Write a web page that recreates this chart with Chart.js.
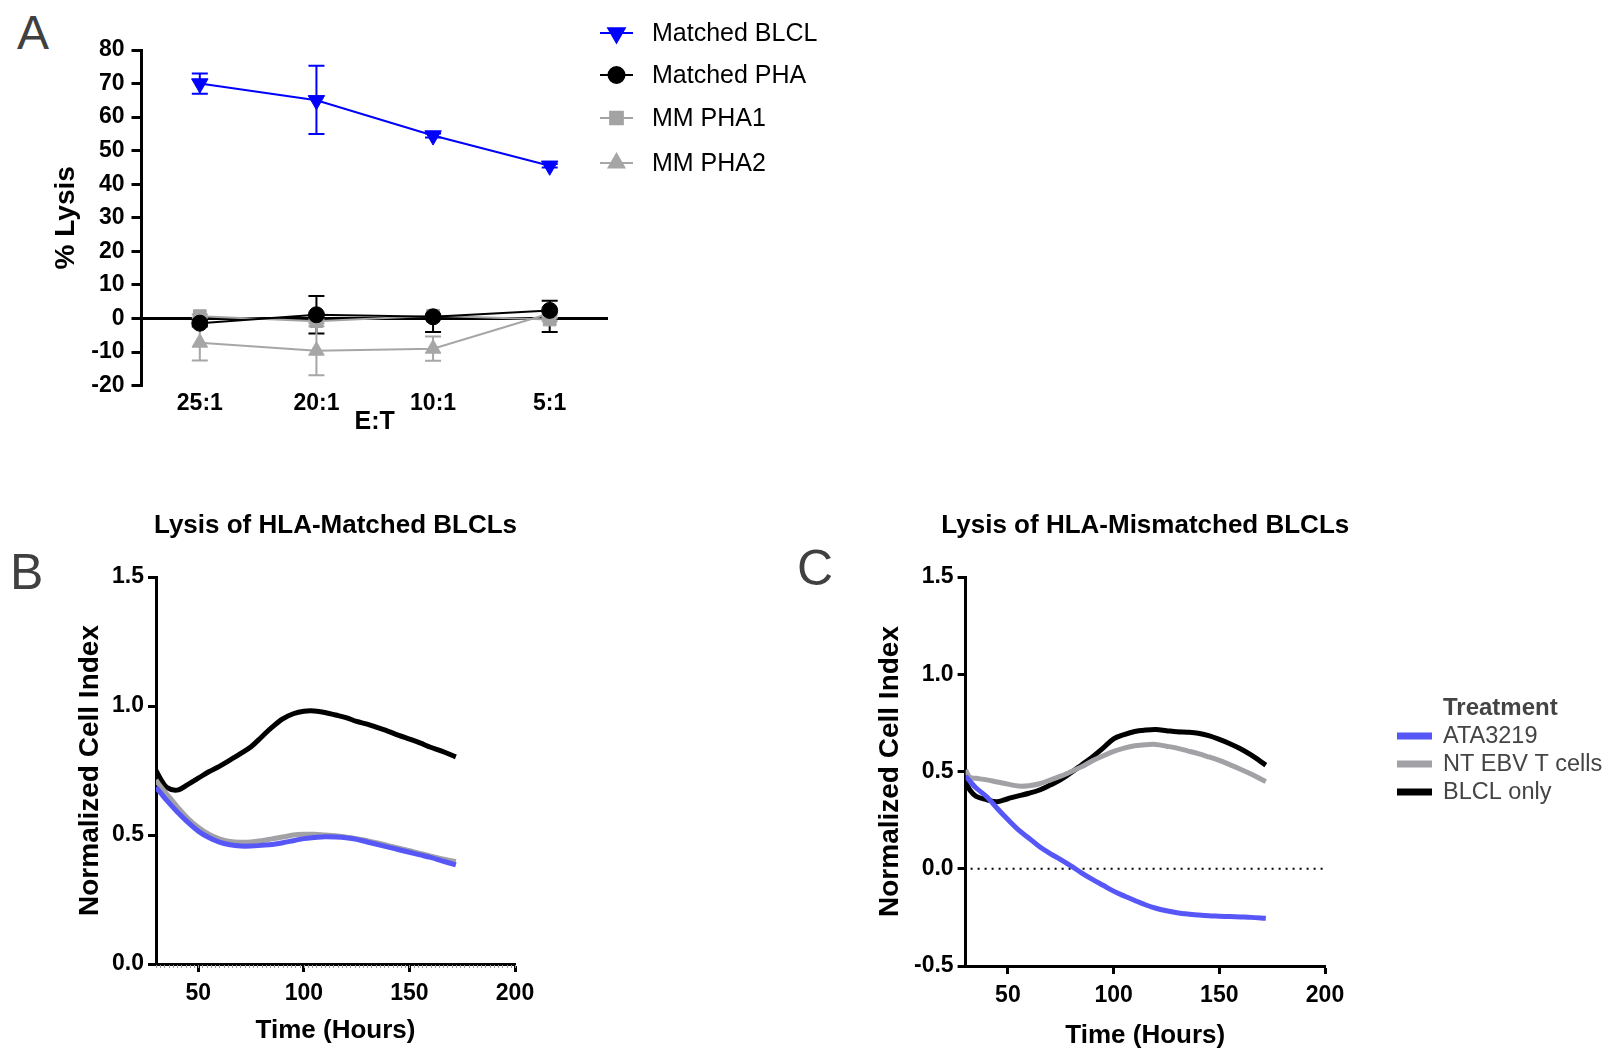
<!DOCTYPE html>
<html>
<head>
<meta charset="utf-8">
<script src="https://cdn.jsdelivr.net/npm/chart.js@4/dist/chart.umd.min.js"></script>
<style>
  body { margin: 0; background: #fff; width: 1608px; height: 1051px; position: relative; overflow: hidden; font-family: "Liberation Sans", Arial, sans-serif; }
  .box { position: absolute; }
  .letter { position: absolute; font-size: 50px; line-height: 1; color: #404040; }
</style>
</head>
<body>
<div class="letter" style="left:17px;top:9px;font-size:48px">A</div>
<div class="letter" style="left:10px;top:547px">B</div>
<div class="letter" style="left:797px;top:543px">C</div>

<div class="box" style="left:0;top:0"><canvas id="chartA" width="860" height="450"></canvas></div>
<div class="box" style="left:0;top:480px"><canvas id="chartB" width="600" height="571"></canvas></div>
<div class="box" style="left:780px;top:480px"><canvas id="chartC" width="828" height="571"></canvas></div>

<script>
// ---- panel A: % lysis by E:T ratio ----
const ratios = ["25:1", "20:1", "10:1", "5:1"];
const lysisTicks = [-20, -10, 0, 10, 20, 30, 40, 50, 60, 70, 80];

const blclMean = [70, 65, 54.5, 45.5];
const blclUp = [3, 10.3, 0.6, 0.5];
const blclDown = [3, 10, 0.6, 0.5];

const phaMean = [-1.4, 1.1, 0.5, 2.4];
const phaUp = [1, 5.6, 0, 2.9];
const phaDown = [1, 5.6, 4.5, 6.4];

const mm1Mean = [0.7, -0.8, 0.8, -0.3];
const mm1Err = [0.5, 0.6, 0.6, 0.5];

const mm2Mean = [-7.2, -9.6, -9.0, 1.5];
const mm2Err = [5.3, 7.3, 3.6, 0.5];

// ---- panels B and C: normalized cell index over time ----
const hours = [30, 32, 35, 40, 45, 50, 55, 60, 65, 70, 75, 80, 85, 90, 95, 100,
  105, 110, 115, 120, 125, 130, 135, 140, 145, 150, 155, 160, 165, 172];
const timeTicks = [50, 100, 150, 200];
const treatments = ["ATA3219", "NT EBV T cells", "BLCL only"];

const matchedATA = [0.685, 0.665, 0.635, 0.59, 0.55, 0.515, 0.49, 0.472, 0.462, 0.457,
  0.457, 0.46, 0.463, 0.47, 0.478, 0.486, 0.49, 0.493, 0.492, 0.489,
  0.483, 0.473, 0.463, 0.453, 0.443, 0.433, 0.423, 0.413, 0.401, 0.384];
const matchedNT = [0.713, 0.69, 0.66, 0.61, 0.565, 0.53, 0.503, 0.485, 0.475, 0.472,
  0.473, 0.478, 0.485, 0.492, 0.5, 0.503, 0.503, 0.5, 0.497, 0.492,
  0.486, 0.478, 0.469, 0.459, 0.449, 0.439, 0.429, 0.418, 0.408, 0.397];
const matchedBLCL = [0.75, 0.72, 0.685, 0.674, 0.695, 0.72, 0.745, 0.766, 0.79, 0.815,
  0.842, 0.88, 0.918, 0.95, 0.97, 0.98, 0.981, 0.975, 0.965, 0.955,
  0.94, 0.93, 0.916, 0.902, 0.886, 0.872, 0.857, 0.84, 0.826, 0.803];

const mismatchedATA = [0.477, 0.45, 0.415, 0.37, 0.31, 0.253, 0.2, 0.157, 0.113, 0.078,
  0.047, 0.013, -0.022, -0.055, -0.085, -0.115, -0.14, -0.163, -0.185, -0.203,
  -0.216, -0.226, -0.233, -0.238, -0.242, -0.244, -0.246, -0.248, -0.25, -0.255];
const mismatchedNT = [0.508, 0.47, 0.465, 0.457, 0.446, 0.435, 0.425, 0.427, 0.437, 0.456,
  0.476, 0.5, 0.525, 0.555, 0.58, 0.603, 0.62, 0.632, 0.638, 0.639,
  0.63, 0.62, 0.606, 0.592, 0.575, 0.557, 0.535, 0.512, 0.487, 0.448];
const mismatchedBLCL = [0.448, 0.405, 0.372, 0.355, 0.345, 0.36, 0.375, 0.388, 0.405, 0.43,
  0.458, 0.495, 0.535, 0.575, 0.62, 0.668, 0.69, 0.706, 0.713, 0.716,
  0.71, 0.704, 0.702, 0.697, 0.684, 0.665, 0.643, 0.617, 0.585, 0.533];

const FONT = "'Liberation Sans', Arial, sans-serif";
const bold = size => ({ family: FONT, size: size, weight: "bold" });
const BLUE = "#5757f7", GRAY = "#a2a2a6";

// error bars drawn under the lines, from errUp / errDown on each dataset
const errorBars = {
  id: "errorBars",
  beforeDatasetsDraw(chart) {
    const { ctx, scales: { x, y } } = chart;
    chart.data.datasets.forEach(ds => {
      if (!ds.errUp) return;
      ctx.save();
      ctx.strokeStyle = ds.borderColor;
      ctx.lineWidth = 2;
      ds.data.forEach((v, j) => {
        const px = x.getPixelForValue(j);
        const py = y.getPixelForValue(v);
        ctx.beginPath();
        if (ds.errUp[j] > 0) {
          const top = y.getPixelForValue(v + ds.errUp[j]);
          ctx.moveTo(px, py); ctx.lineTo(px, top);
          ctx.moveTo(px - 8, top); ctx.lineTo(px + 8, top);
        }
        if (ds.errDown[j] > 0) {
          const bot = y.getPixelForValue(v - ds.errDown[j]);
          ctx.moveTo(px, py); ctx.lineTo(px, bot);
          ctx.moveTo(px - 8, bot); ctx.lineTo(px + 8, bot);
        }
        ctx.stroke();
      });
      ctx.restore();
    });
  }
};

const markerLegend = {
  id: "markerLegend",
  afterDraw(chart, args, o) {
    const ctx = chart.ctx;
    chart.data.datasets.forEach((ds, i) => {
      const y = o.rows[i];
      ctx.save();
      ctx.strokeStyle = ds.borderColor;
      ctx.fillStyle = ds.borderColor;
      ctx.lineWidth = 2;
      ctx.beginPath(); ctx.moveTo(o.x1, y); ctx.lineTo(o.x2, y); ctx.stroke();
      Chart.helpers.drawPoint(ctx, { pointStyle: ds.pointStyle, rotation: ds.pointRotation || 0,
        radius: ds.pointRadius, borderWidth: 1 }, (o.x1 + o.x2) / 2, y);
      ctx.fillStyle = "#000";
      ctx.font = "25px " + FONT;
      ctx.textBaseline = "middle";
      ctx.fillText(ds.label, o.textX, y + 1);
      ctx.restore();
    });
  }
};

// panel title centred over the plot area, at its natural width
const panelTitle = {
  id: "panelTitle",
  afterDraw(chart, args, o) {
    const { ctx, chartArea } = chart;
    ctx.save();
    ctx.font = "bold 26px " + FONT;
    ctx.fillStyle = "#000";
    ctx.textAlign = "center";
    ctx.textBaseline = "middle";
    ctx.fillText(o.text, (chartArea.left + chartArea.right) / 2, o.y);
    ctx.restore();
  }
};

const swatchLegend = {
  id: "swatchLegend",
  afterDraw(chart, args, o) {
    if (!o.title) return;
    const ctx = chart.ctx;
    ctx.save();
    ctx.textBaseline = "middle";
    ctx.fillStyle = "#444";
    ctx.font = "bold 24px " + FONT;
    ctx.fillText(o.title, o.textX, o.rows[0]);
    ctx.font = "23.5px " + FONT;
    chart.data.datasets.forEach((ds, i) => {
      const y = o.rows[i + 1];
      ctx.fillStyle = ds.borderColor;
      ctx.fillRect(o.x1, y - 3.5, o.x2 - o.x1, 7);
      ctx.fillStyle = "#444";
      ctx.fillText(ds.label, o.textX, y + 1);
    });
    ctx.restore();
  }
};

const zeroLine = {
  id: "zeroLine",
  beforeDatasetsDraw(chart, args, o) {
    if (!o.show) return;
    const { ctx, scales: { x, y } } = chart;
    const py = y.getPixelForValue(0);
    ctx.save();
    ctx.setLineDash([2, 5]);
    ctx.lineWidth = 2;
    ctx.strokeStyle = "#000";
    ctx.beginPath(); ctx.moveTo(x.left + 5, py); ctx.lineTo(x.right, py); ctx.stroke();
    ctx.restore();
  }
};

const minorTicks = {
  id: "minorTicks",
  afterDraw(chart, args, o) {
    if (!o.step) return;
    const { ctx, scales: { x } } = chart;
    ctx.save();
    ctx.strokeStyle = "#999";
    ctx.lineWidth = 1;
    ctx.beginPath();
    for (let t = x.min; t <= x.max; t += o.step) {
      const px = Math.round(x.getPixelForValue(t)) + 0.5;
      ctx.moveTo(px, x.top + 1); ctx.lineTo(px, x.top + 4);
    }
    ctx.stroke();
    ctx.restore();
  }
};

function lysisSet(label, mean, up, down, color, style, radius, rotation) {
  return {
    label: label, data: mean, errUp: up, errDown: down,
    borderColor: color, backgroundColor: color, borderWidth: 2,
    pointStyle: style, pointRadius: radius, pointRotation: rotation || 0,
    pointBorderWidth: 1, pointBackgroundColor: color, pointBorderColor: color
  };
}

new Chart(document.getElementById("chartA"), {
  type: "line",
  data: {
    labels: ratios,
    datasets: [
      lysisSet("Matched BLCL", blclMean, blclUp, blclDown, "#0000ff", "triangle", 9.5, 180),
      lysisSet("Matched PHA", phaMean, phaUp, phaDown, "#000000", "circle", 8),
      lysisSet("MM PHA1", mm1Mean, mm1Err, mm1Err, "#a3a3a3", "rect", 9),
      lysisSet("MM PHA2", mm2Mean, mm2Err, mm2Err, "#a6a6a6", "triangle", 9)
    ]
  },
  plugins: [errorBars, markerLegend],
  options: {
    responsive: false,
    animation: false,
    layout: { padding: { left: 40, right: 252, top: 50, bottom: 13 } },
    plugins: {
      legend: { display: false },
      tooltip: { enabled: false },
      markerLegend: { x1: 600, x2: 633, textX: 652, rows: [33, 75, 118, 163] }
    },
    scales: {
      x: {
        type: "category",
        offset: true,
        border: { display: false },
        grid: { display: false, drawTicks: false },
        ticks: { font: bold(23), color: "#000", padding: 4 },
        title: { display: true, text: "E:T", font: bold(25), color: "#000", padding: 0 },
        afterFit: s => { s.height = 51.4; }
      },
      y: {
        min: -20, max: 80,
        border: { color: "#000", width: 3 },
        grid: {
          color: c => (c.tick && c.tick.value === 0 ? "#000" : "rgba(0,0,0,0)"),
          lineWidth: 3, tickColor: "#000", tickWidth: 3, tickLength: 10
        },
        ticks: { font: bold(23), color: "#000", padding: 7 },
        title: { display: true, text: "% Lysis", font: bold(28), color: "#000", padding: { top: 9.2, bottom: 0 } },
        afterBuildTicks: s => { s.ticks = lysisTicks.map(v => ({ value: v })); },
        afterFit: s => { s.width = 101.5; }
      }
    }
  }
});

function timeChart(id, title, series, yMin, yMax, yTicks, pad, yWidth, xHeight, extra) {
  const colors = [BLUE, GRAY, "#000000"];
  return new Chart(document.getElementById(id), {
    type: "line",
    data: {
      datasets: series.map((vals, i) => ({
        label: treatments[i],
        data: hours.map((h, k) => ({ x: h, y: vals[k] })),
        borderColor: colors[i],
        backgroundColor: colors[i],
        borderWidth: 5,
        pointRadius: 0,
        tension: 0.35
      }))
    },
    plugins: [zeroLine, minorTicks, swatchLegend, panelTitle],
    options: {
      responsive: false,
      animation: false,
      layout: { padding: pad },
      plugins: Object.assign({
        legend: { display: false },
        tooltip: { enabled: false },
        panelTitle: { text: title, y: 46 }
      }, extra),
      scales: {
        x: {
          type: "linear", min: 30, max: 200,
          border: { color: "#000", width: 3 },
          grid: { drawOnChartArea: false, tickColor: "#000", tickWidth: 3, tickLength: 8 },
          ticks: { font: bold(23), color: "#000", padding: 8 },
          title: { display: true, text: "Time (Hours)", font: bold(26), color: "#000", padding: 0 },
          afterBuildTicks: s => { s.ticks = timeTicks.map(v => ({ value: v })); },
          afterFit: s => { s.height = xHeight; }
        },
        y: {
          min: yMin, max: yMax,
          border: { color: "#000", width: 3 },
          grid: { drawOnChartArea: false, tickColor: "#000", tickWidth: 3, tickLength: 8 },
          ticks: { font: bold(23), color: "#000", padding: 4, callback: v => v.toFixed(1) },
          title: { display: true, text: "Normalized Cell Index", font: bold(28), color: "#000",
            padding: { top: 13.2, bottom: 0 } },
          afterBuildTicks: s => { s.ticks = yTicks.map(v => ({ value: v })); },
          afterFit: s => { s.width = yWidth; }
        }
      }
    }
  });
}

timeChart("chartB", "Lysis of HLA-Matched BLCLs", [matchedATA, matchedNT, matchedBLCL],
  0, 1.5, [0, 0.5, 1.0, 1.5],
  { left: 60, right: 85, top: 97, bottom: 5 }, 96, 82,
  { zeroLine: { show: false }, minorTicks: { step: 2 }, swatchLegend: { title: "" } });

timeChart("chartC", "Lysis of HLA-Mismatched BLCLs", [mismatchedATA, mismatchedNT, mismatchedBLCL],
  -0.5, 1.5, [-0.5, 0, 0.5, 1.0, 1.5],
  { left: 80, right: 283, top: 97, bottom: 0 }, 105.6, 85,
  { zeroLine: { show: true }, minorTicks: { step: 0 },
    swatchLegend: { title: "Treatment", rows: [228, 256, 284, 312], x1: 617, x2: 652, textX: 663 } });
</script>
</body>
</html>
